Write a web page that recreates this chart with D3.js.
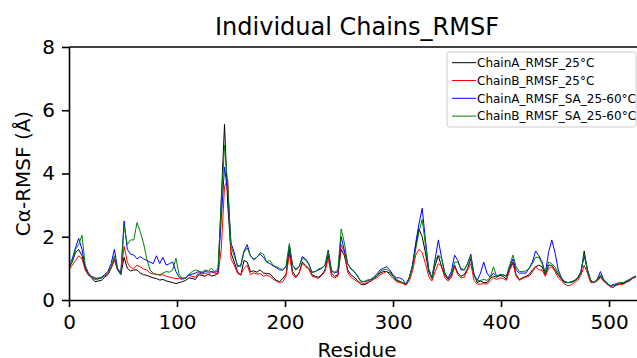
<!DOCTYPE html>
<html>
<head>
<meta charset="utf-8">
<script src="https://cdn.jsdelivr.net/npm/d3@7"></script>
<style>
  body { margin: 0; background: #fff; }
  svg { display: block; font-family: "DejaVu Sans", sans-serif; }
</style>
</head>
<body>
<svg id="chart" width="637" height="358"></svg>
<script>
// residue numbers sampled every 3 residues
var residues = d3.range(0, 526, 3);

var chainA25 = [1.05,1.2,1.5,1.6,1.4,1.0,0.8,0.7,0.58,0.6,0.62,0.72,0.8,1.0,1.3,0.95,0.8,1.35,1.0,0.92,
  0.95,0.95,0.85,0.8,0.78,0.74,0.7,0.68,0.63,0.65,0.6,0.58,0.55,0.52,0.55,0.58,0.62,0.7,0.68,0.65,
  0.8,0.78,0.75,0.82,0.76,0.78,0.85,3.2,5.55,3.0,1.5,1.2,0.9,0.78,1.25,1.2,0.9,0.92,0.88,0.95,
  0.85,0.84,0.82,0.72,0.62,0.58,0.68,0.82,1.6,0.9,0.74,0.85,1.2,1.1,1.0,0.8,0.75,0.72,0.8,0.95,
  1.42,0.85,0.75,0.8,1.6,1.4,0.95,0.8,0.72,0.62,0.5,0.48,0.52,0.6,0.68,0.75,0.85,0.9,0.9,0.85,
  0.75,0.62,0.58,0.55,0.48,0.7,1.05,1.7,2.25,2.0,1.5,0.9,0.68,1.1,1.4,1.05,0.78,0.65,0.8,1.1,
  0.85,0.75,0.8,1.0,1.3,0.8,0.55,0.6,0.55,0.55,0.68,0.75,0.72,0.78,0.75,0.65,1.0,1.2,0.8,0.65,
  0.7,0.75,0.8,0.95,1.05,1.1,1.05,0.8,1.1,1.1,0.95,0.8,0.65,0.55,0.55,0.55,0.6,0.68,0.85,1.55,
  0.95,0.6,0.55,0.62,0.75,0.6,0.55,0.42,0.4,0.48,0.5,0.52,0.58,0.6,0.7,0.74];

var chainB25 = [0.95,1.1,1.25,1.4,1.3,0.95,0.78,0.72,0.65,0.66,0.7,0.76,0.82,1.0,1.27,0.95,0.85,1.7,1.2,1.02,
  1.0,1.1,1.05,0.98,0.95,0.85,0.82,0.82,0.78,0.8,0.75,0.72,0.7,0.68,0.68,0.65,0.7,0.78,0.75,0.72,
  0.86,0.82,0.85,0.8,0.88,0.85,0.82,1.6,3.6,3.8,1.3,1.1,0.84,0.8,1.0,1.1,0.8,0.86,0.82,0.84,
  0.75,0.79,0.74,0.66,0.6,0.55,0.58,0.76,1.45,0.8,0.7,0.85,1.15,1.05,0.98,0.76,0.72,0.68,0.78,0.9,
  1.32,0.75,0.7,0.75,1.75,1.5,0.88,0.72,0.65,0.58,0.55,0.52,0.55,0.58,0.65,0.7,0.8,0.85,0.9,0.8,
  0.68,0.58,0.55,0.52,0.47,0.6,0.9,1.42,1.6,1.5,1.15,0.75,0.6,0.9,1.15,1.05,0.7,0.6,0.7,1.05,
  0.8,0.7,0.72,0.95,1.15,0.62,0.5,0.5,0.52,0.5,0.6,0.7,0.65,0.7,0.68,0.62,0.95,1.15,0.75,0.62,
  0.68,0.72,0.75,0.88,1.05,0.95,0.95,0.75,1.0,1.05,0.9,0.7,0.6,0.5,0.45,0.48,0.55,0.62,0.78,1.1,
  0.85,0.55,0.55,0.6,0.7,0.6,0.5,0.45,0.45,0.47,0.5,0.5,0.55,0.62,0.68,0.72];

var chainASA = [1.1,1.3,1.65,1.95,1.6,1.05,0.85,0.75,0.7,0.68,0.72,0.8,0.9,1.15,1.6,1.0,0.85,2.5,1.6,1.45,
  1.42,1.3,1.37,1.3,1.25,1.2,1.15,1.4,1.15,1.35,1.1,1.15,1.2,0.9,0.72,0.68,0.7,0.8,0.82,0.85,
  0.9,0.85,0.9,0.88,0.9,0.88,0.9,2.6,4.2,3.4,1.8,1.5,1.05,1.1,1.55,1.75,1.4,1.27,1.35,1.45,
  1.35,1.2,1.15,1.08,1.02,0.95,0.95,1.05,1.72,1.1,0.98,1.05,1.37,1.3,1.15,0.88,0.9,0.95,1.0,1.1,
  1.58,0.95,0.85,0.9,2.0,1.55,1.15,0.98,0.9,0.75,0.6,0.58,0.6,0.64,0.72,0.82,0.95,1.0,1.05,0.95,
  0.8,0.7,0.7,0.65,0.5,0.7,1.1,1.8,2.4,2.9,1.9,1.0,0.7,1.3,1.9,1.32,0.85,0.68,0.9,1.42,
  1.25,0.95,0.95,1.15,1.45,0.8,0.62,0.85,1.2,0.85,0.72,0.85,0.75,0.8,0.8,0.75,1.05,1.3,0.95,0.85,
  0.85,0.85,1.0,1.2,1.55,1.4,1.2,0.85,1.5,1.9,1.5,0.95,0.7,0.58,0.55,0.57,0.62,0.7,0.9,1.4,
  0.95,0.62,0.55,0.65,0.9,0.65,0.52,0.45,0.48,0.5,0.55,0.52,0.6,0.65,0.72,0.75];

var chainBSA = [1.0,1.2,1.6,1.75,2.05,1.1,0.85,0.72,0.66,0.7,0.68,0.78,0.85,1.05,1.4,0.95,0.82,2.35,1.75,1.9,
  1.9,2.45,2.15,1.8,1.3,0.95,0.85,0.8,0.8,0.85,0.9,0.88,0.95,1.32,0.8,0.7,0.68,0.8,0.9,0.95,
  0.92,0.88,0.95,0.92,1.0,0.9,1.0,3.0,4.9,3.6,1.7,1.4,1.1,1.05,1.5,1.65,1.4,1.3,1.35,1.5,
  1.45,1.21,1.25,1.1,1.05,1.0,0.95,1.08,1.78,1.1,0.95,1.05,1.32,1.27,1.12,0.86,0.9,0.98,1.02,1.1,
  1.52,0.9,0.88,0.95,2.25,1.8,1.15,1.0,0.9,0.78,0.6,0.58,0.63,0.65,0.7,0.76,0.9,0.95,0.97,0.9,
  0.78,0.65,0.6,0.55,0.5,0.7,1.05,1.6,2.15,2.55,1.75,0.95,0.68,1.25,1.42,1.32,0.82,0.65,0.75,1.2,
  1.2,1.0,0.95,1.15,1.37,0.78,0.6,0.62,0.65,0.62,0.72,1.05,0.75,0.8,0.8,0.75,1.1,1.42,1.05,0.9,
  0.9,0.92,1.0,1.15,1.35,1.35,1.15,0.85,1.2,1.15,1.05,0.85,0.68,0.58,0.55,0.57,0.62,0.7,0.9,1.45,
  0.95,0.62,0.55,0.65,0.8,0.65,0.55,0.45,0.48,0.52,0.55,0.55,0.6,0.65,0.7,0.75];

var seriesNames = ["ChainA_RMSF_25°C", "ChainB_RMSF_25°C", "ChainA_RMSF_SA_25-60°C", "ChainB_RMSF_SA_25-60°C"];
var seriesColors = ["#000000", "#ff0000", "#0000ff", "#008000"];
var seriesValues = [chainA25, chainB25, chainASA, chainBSA];

var xTicks = [0, 100, 200, 300, 400, 500];
var yTicks = [0, 2, 4, 6, 8];

// the axes run past the right edge of the picture
var margin = { top: 47, left: 69, bottom: 58 },
    width = 576,
    height = 358 - margin.top - margin.bottom;

var svg = d3.select("#chart");
var g = svg.append("g")
    .attr("transform", "translate(" + margin.left + "," + margin.top + ")");

var x = d3.scaleLinear().domain([0, 533.3]).range([0, width]);
var y = d3.scaleLinear().domain([0, 8]).range([height, 0]);

var line = d3.line()
    .x(function (d) { return x(d[0]); })
    .y(function (d) { return y(d[1]); });

g.append("clipPath").attr("id", "clip")
    .append("rect").attr("width", width).attr("height", height);

var lines = g.append("g").attr("clip-path", "url(#clip)");
seriesValues.forEach(function (vals, i) {
    lines.append("path")
        .datum(residues.map(function (r, j) { return [r, vals[j]]; }))
        .attr("fill", "none")
        .attr("stroke", seriesColors[i])
        .attr("stroke-width", 1)
        .attr("stroke-linejoin", "round")
        .attr("d", line);
});

// top spine
g.append("line").attr("x1", 0).attr("x2", width).attr("y1", 0).attr("y2", 0)
    .attr("stroke", "#000").attr("stroke-width", 1.6);

var xAxis = d3.axisBottom(x).tickValues(xTicks).tickSize(7).tickPadding(8).tickSizeOuter(0);
var yAxis = d3.axisLeft(y).tickValues(yTicks).tickSize(7).tickPadding(7).tickSizeOuter(0);

g.append("g").attr("class", "x axis")
    .attr("transform", "translate(0," + height + ")")
    .call(xAxis);
g.append("g").attr("class", "y axis").call(yAxis);

g.selectAll(".axis path").attr("stroke-width", 1.6);
g.selectAll(".axis line").attr("stroke-width", 1.6);
g.selectAll(".axis text")
    .style("font-family", "DejaVu Sans, sans-serif")
    .style("font-size", "20px")
    .attr("fill", "#000");

// title and labels
svg.append("text")
    .attr("x", margin.left + width / 2).attr("y", 35)
    .attr("text-anchor", "middle")
    .style("font-size", "24px")
    .text("Individual Chains_RMSF");

svg.append("text")
    .attr("x", margin.left + width / 2).attr("y", 357)
    .attr("text-anchor", "middle")
    .style("font-size", "20px")
    .text("Residue");

svg.append("text")
    .attr("transform", "translate(30," + (margin.top + height / 2) + ") rotate(-90)")
    .attr("text-anchor", "middle")
    .style("font-size", "20px")
    .text("Cα-RMSF (Å)");

// legend
var legend = svg.append("g").attr("transform", "translate(447,52)");
legend.append("rect")
    .attr("width", 189).attr("height", 75)
    .attr("rx", 2.5)
    .attr("fill", "rgba(255,255,255,0.8)")
    .attr("stroke", "#cccccc")
    .attr("stroke-width", 1);

seriesNames.forEach(function (name, i) {
    var row = legend.append("g").attr("transform", "translate(0," + (10.7 + i * 17.8) + ")");
    row.append("line")
        .attr("x1", 5).attr("x2", 29)
        .attr("stroke", seriesColors[i]).attr("stroke-width", 1);
    row.append("text")
        .attr("x", 30).attr("y", 4.2)
        .style("font-size", "12px")
        .text(name);
});
</script>
</body>
</html>
